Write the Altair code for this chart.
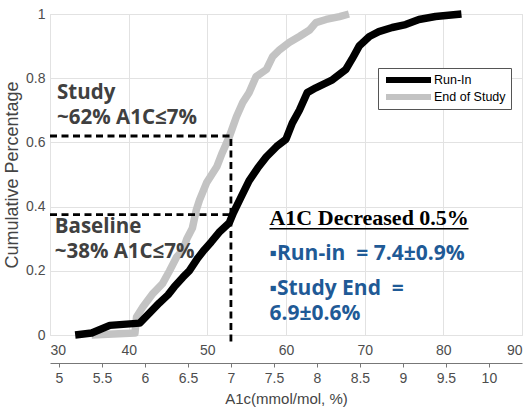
import altair as alt
import pandas as pd

# ---- data ----
runin_x = [33.2, 35.3, 37.6, 41.4, 42.7, 43.9, 45.0, 45.8, 46.9, 47.7, 48.8, 49.6, 50.5, 51.5,
           52.8, 53.3, 54.3, 55.3, 56.4, 57.5, 58.8, 60.0, 60.8, 61.7, 62.7, 63.8, 65.9, 67.6,
           68.4, 69.3, 70.6, 71.8, 73.5, 75.2, 76.9, 79.0, 82.3]
runin_y = [0, 0.006, 0.03, 0.037, 0.07, 0.10, 0.125, 0.15, 0.18, 0.20, 0.24, 0.265, 0.29, 0.32,
           0.35, 0.38, 0.43, 0.48, 0.52, 0.555, 0.587, 0.61, 0.66, 0.70, 0.755, 0.77, 0.795, 0.827,
           0.86, 0.90, 0.93, 0.945, 0.958, 0.967, 0.983, 0.992, 1.0]
end_x = [35.3, 40.8, 41.0, 41.8, 43.1, 44.3, 45.2, 46.1, 46.9, 47.4, 48.1, 48.6, 49.0, 49.9,
         51.2, 51.9, 52.8, 53.7, 54.5, 55.3, 56.2, 57.5, 58.3, 59.2, 60.4, 61.7, 63.0, 63.8,
         65.1, 66.8, 68.0]
end_y = [0, 0.006, 0.056, 0.087, 0.13, 0.16, 0.2, 0.243, 0.265, 0.3, 0.333, 0.39, 0.42, 0.474,
         0.524, 0.568, 0.618, 0.68, 0.724, 0.755, 0.805, 0.827, 0.867, 0.889, 0.911, 0.93, 0.95,
         0.973, 0.983, 0.992, 1.0]
series_names = ["Run-In", "End of Study"]

x_ticks = [30, 40, 50, 60, 70, 80, 90]
y_ticks = [0, 0.2, 0.4, 0.6, 0.8, 1]
pct_ticks = [5, 5.5, 6, 6.5, 7, 7.5, 8, 8.5, 9, 9.5, 10]

target_mmol = 53          # 7 % A1c
level_study = 0.62
level_baseline = 0.375

# ---- tables ----
df_run = pd.DataFrame({"x": runin_x, "y": runin_y, "series": series_names[0]})
df_end = pd.DataFrame({"x": end_x, "y": end_y, "series": series_names[1]})
df_pct = pd.DataFrame({"pct": pct_ticks})
df_h = pd.DataFrame({"x": [30, 30], "x2": [target_mmol, target_mmol],
                     "y": [level_study, level_baseline]})
df_v = pd.DataFrame({"x": [target_mmol], "y": [-0.02], "y2": [level_study]})
one = pd.DataFrame({"a": [0]})

XS = alt.Scale(domain=[30, 90], nice=False, zero=False)
YS = alt.Scale(domain=[0, 1], nice=False)

X_AXIS = alt.Axis(values=x_ticks, grid=True, gridColor="#e2e2e2", domain=False,
                  ticks=False, labelPadding=8, labelFontSize=14, title=None,
                  labelColor="#4d4d4d", labelFont="Liberation Sans")
Y_AXIS = alt.Axis(values=y_ticks, grid=True, gridColor="#e2e2e2", domain=False,
                  ticks=False, labelPadding=5, labelFontSize=14, format="~g",
                  title="Cumulative Percentage",
                  labelColor="#4d4d4d", labelFont="Liberation Sans",
                  titleFont="Liberation Sans", titleFontSize=18,
                  titleFontWeight="normal", titleColor="#444444", titlePadding=4)

x_enc = alt.X("x:Q", scale=XS, title=None, axis=X_AXIS)
y_enc = alt.Y("y:Q", scale=YS, title="Cumulative Percentage", axis=Y_AXIS)

color = alt.Color("series:N",
                  scale=alt.Scale(domain=series_names, range=["#000000", "#c3c3c3"]),
                  legend=alt.Legend(title=None, orient="none", legendX=328, legendY=54,
                                    symbolType="stroke", symbolSize=2025, symbolStrokeWidth=6,
                                    strokeColor="#555555", fillColor="white", padding=5,
                                    labelFont="Liberation Sans", labelFontSize=12.5,
                                    labelColor="black", labelOffset=0, rowPadding=3,
                                    clipHeight=14))

end_line = alt.Chart(df_end).mark_line(strokeWidth=7.5, strokeJoin="round").encode(
    x=x_enc, y=y_enc, color=color, order="x:Q")
run_line = alt.Chart(df_run).mark_line(strokeWidth=7.5, strokeJoin="round").encode(
    x=x_enc, y=y_enc, color=color, order="x:Q")

dash = dict(color="black", strokeWidth=2.8, strokeDash=[7, 4.5])
h_rules = alt.Chart(df_h).mark_rule(**dash).encode(x=x_enc, x2="x2:Q", y=y_enc)
v_rule = alt.Chart(df_v).mark_rule(clip=False, **dash).encode(x=x_enc, y=y_enc, y2="y2:Q")


def note(txt, x, y, **style):
    return alt.Chart(one).mark_text(align="left", baseline="alphabetic", **style).encode(
        x=alt.XDatum(x, scale=XS, title=None, axis=X_AXIS),
        y=alt.YDatum(y, scale=YS, title="Cumulative Percentage", axis=Y_AXIS),
        text=alt.value(txt))


gray_style = dict(font="Open Sans", fontWeight="bold", fontSize=20.5, color="#404040")
blue_style = dict(font="Open Sans", fontWeight="bold", fontSize=21, color="#1f5a96")
notes = [
    note("Study", 30.9, 0.735, **gray_style),
    note("~62% A1C\u22647%", 30.9, 0.657, **gray_style),
    note("Baseline", 30.6, 0.318, **gray_style),
    note("~38% A1C\u22647%", 30.6, 0.24, **gray_style),
    note("A1C Decreased 0.5%", 57.9, 0.343, font="Liberation Serif", fontWeight="bold",
         fontSize=22, color="black"),
    note("\u25aaRun-in\u00a0\u00a0= 7.4\u00b10.9%", 57.9, 0.234, **blue_style),
    note("\u25aaStudy End\u00a0\u00a0=", 57.9, 0.125, **blue_style),
    note("6.9\u00b10.6%", 57.9, 0.047, **blue_style),
]
underline = alt.Chart(one).mark_rule(color="black", strokeWidth=1.5).encode(
    x=alt.XDatum(57.9, scale=XS, title=None, axis=X_AXIS), x2=alt.X2Datum(83.2),
    y=alt.YDatum(0.331, scale=YS, title="Cumulative Percentage", axis=Y_AXIS))

main = alt.layer(end_line, run_line, h_rules, v_rule, *notes, underline)

# secondary (%) axis below the mmol/mol axis
pct_axis = alt.Chart(df_pct).mark_point(opacity=0).encode(
    x=alt.X("pct:Q",
            scale=alt.Scale(domain=[(30 + 23.5) / 10.929, (90 + 23.5) / 10.929],
                            nice=False, zero=False),
            title="A1c(mmol/mol, %)",
            axis=alt.Axis(orient="bottom", offset=28, values=pct_ticks, format="~g",
                          grid=False, domainColor="#777777", tickColor="#777777",
                          tickSize=4, labelPadding=4, labelFontSize=14,
                          labelColor="#4d4d4d", labelFont="Liberation Sans",
                          titleFont="Liberation Sans", titleFontSize=15,
                          titleFontWeight="normal", titleColor="#444444", titlePadding=6)),
    y=alt.value(0))

chart = alt.layer(main, pct_axis).resolve_scale(x="independent").properties(
    width=472, height=321, autosize="none",
    padding={"left": 50, "top": 14, "right": 7, "bottom": 76},
).configure_view(stroke="#777777", strokeWidth=1.3).configure(background="white")

chart.save("out.html", embed_options={"renderer": "svg", "actions": False})
